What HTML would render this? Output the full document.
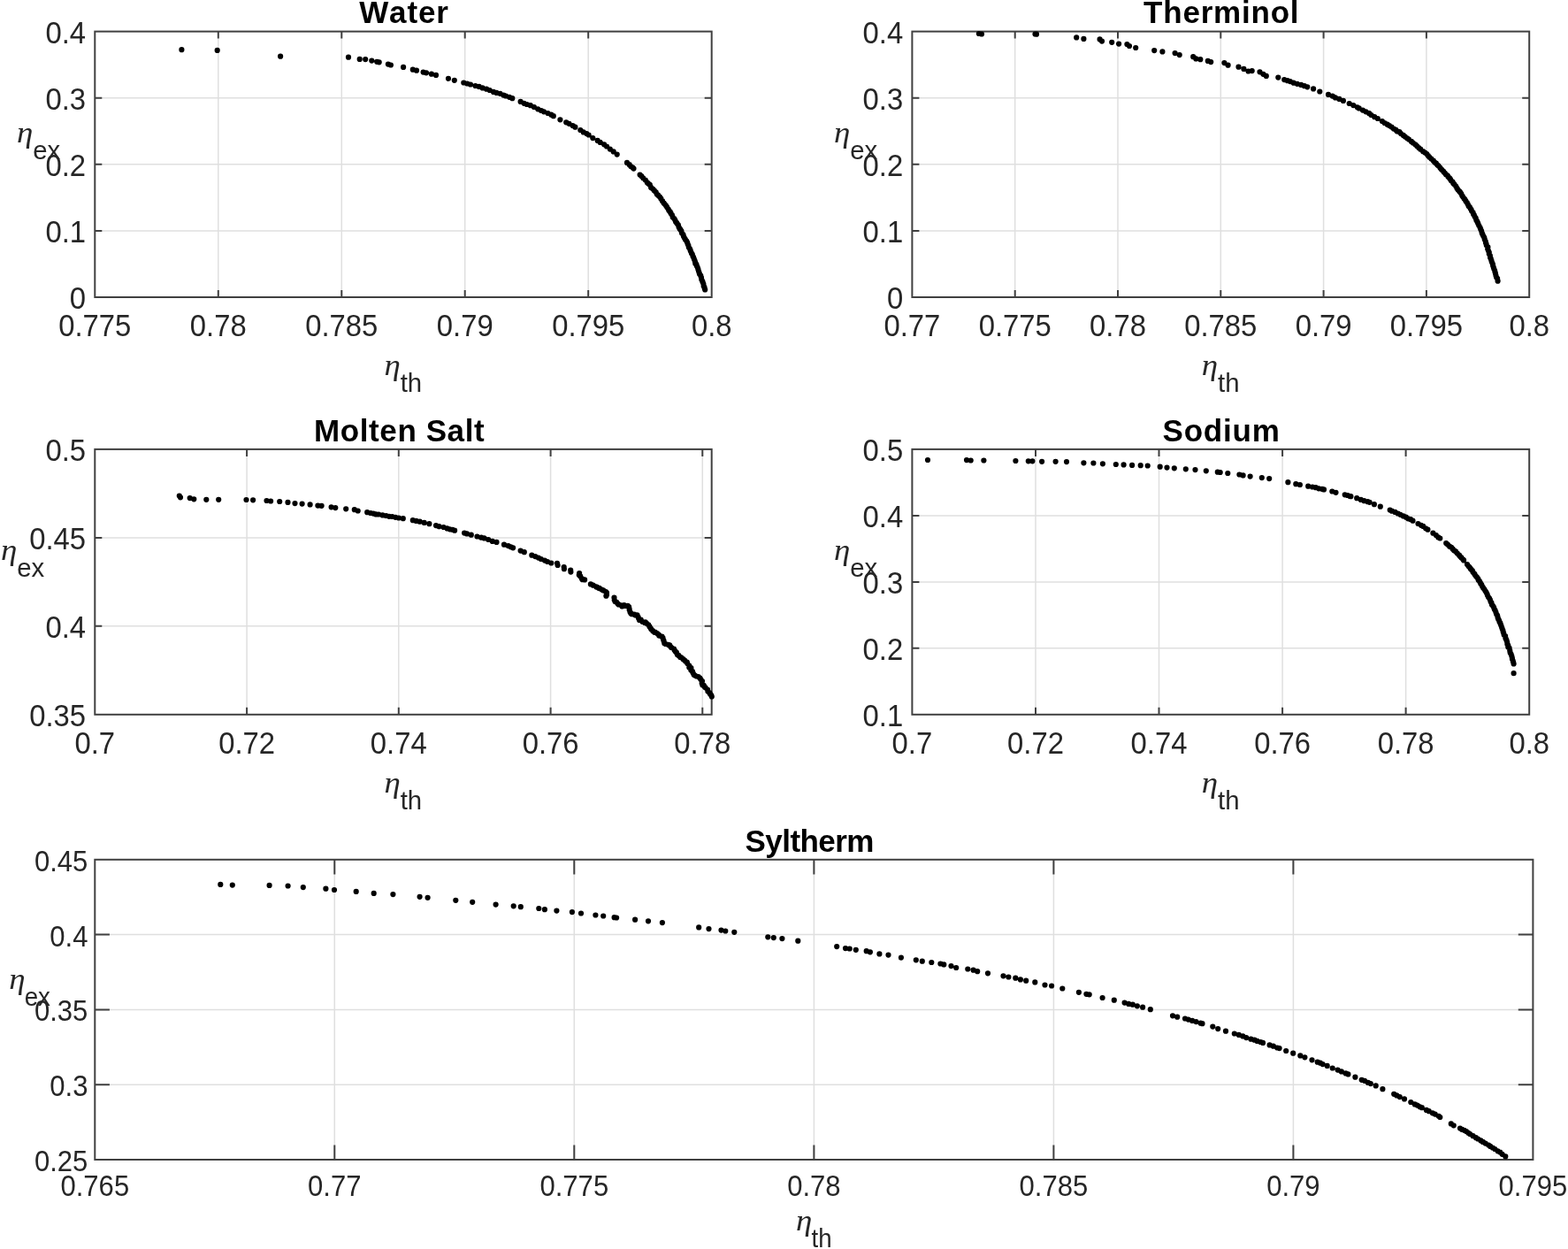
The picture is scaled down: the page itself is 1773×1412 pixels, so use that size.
<!DOCTYPE html>
<html lang="en">
<head>
<meta charset="utf-8">
<title>Exergy efficiency vs thermal efficiency</title>
<style>
html,body{margin:0;padding:0;background:#fff;}
body{width:1773px;height:1412px;overflow:hidden;}
svg{display:block;}
</style>
</head>
<body>
<svg width="1773" height="1412" viewBox="0 0 1773 1412">
<rect width="1773" height="1412" fill="#fff"/>
<g id="water">
<path d="M246.8,35.6V336.0M386.3,35.6V336.0M525.7,35.6V336.0M665.2,35.6V336.0M107.3,260.9H804.7M107.3,185.8H804.7M107.3,110.7H804.7" fill="none" stroke="#262626" stroke-opacity="0.15" stroke-width="1.5"/>
<path d="M246.8,336.0v-8.0M246.8,35.6v8.0M386.3,336.0v-8.0M386.3,35.6v8.0M525.7,336.0v-8.0M525.7,35.6v8.0M665.2,336.0v-8.0M665.2,35.6v8.0M107.3,260.9h8.0M804.7,260.9h-8.0M107.3,185.8h8.0M804.7,185.8h-8.0M107.3,110.7h8.0M804.7,110.7h-8.0" fill="none" stroke="#404040" stroke-width="2.0"/>
<rect x="107.3" y="35.6" width="697.4" height="300.4" fill="none" stroke="#404040" stroke-width="2.0"/>
<path d="M205.4,56.2h0M245.7,56.9h0M317.1,63.7h0M394.0,64.7h0M406.7,66.9h0M413.2,67.1h0M420.3,68.6h0M426.2,69.8h0M428.7,70.3h0M438.9,72.6h0M441.9,73.5h0M456.1,75.9h0M466.8,78.7h0M471.0,79.7h0M478.6,81.6h0M482.0,82.3h0M487.9,83.7h0M493.0,84.9h0M507.0,88.8h0M513.8,90.8h0M633.4,135.3h0M670.3,156.1h0M524.3,93.5h0M528.3,94.5h0M532.0,95.5h0M537.5,97.0h0M541.7,97.9h0M545.6,99.4h0M550.1,100.7h0M553.7,102.0h0M558.0,103.9h0M561.4,104.9h0M565.5,105.8h0M569.3,107.6h0M572.0,108.5h0M576.0,109.8h0M579.3,111.2h0M588.6,114.9h0M592.5,116.8h0M595.7,118.0h0M599.8,119.2h0M603.9,121.0h0M608.2,123.3h0M612.0,125.0h0M615.0,126.3h0M619.5,128.0h0M623.3,129.7h0M625.8,131.2h0M640.2,138.3h0M643.5,139.8h0M647.6,142.1h0M650.4,143.7h0M656.3,147.0h0M659.7,149.4h0M663.3,151.0h0M665.6,152.5h0M675.7,158.9h0M678.6,160.9h0M683.1,163.3h0M686.0,165.5h0M689.8,168.6h0M693.7,171.4h0M697.7,174.6h0M709.0,183.9h0M711.7,186.2h0M713.3,188.0h0M715.3,189.3h0M716.5,190.6h0M723.6,197.5h0M725.3,199.1h0M727.2,201.3h0M729.8,203.6h0M731.9,206.4h0M733.1,207.5h0M734.8,208.9h0M736.1,211.9h0M738.1,213.6h0M739.8,215.4h0M741.7,217.3h0M742.8,219.5h0M744.1,220.7h0M746.0,222.5h0M747.4,224.7h0M749.0,227.2h0M750.5,229.4h0M751.7,230.8h0M753.1,232.5h0M754.2,234.3h0M755.7,236.5h0M756.4,238.1h0M757.7,239.4h0M758.6,241.2h0M759.9,243.0h0M760.7,245.4h0M762.1,246.8h0M763.2,248.6h0M764.1,250.7h0M765.1,251.9h0M765.8,253.0h0M766.9,254.4h0M767.6,256.7h0M768.4,258.4h0M769.3,259.4h0M770.4,261.2h0M771.0,263.5h0M772.4,265.0h0M772.9,266.9h0M773.8,268.8h0M774.9,270.7h0M776.3,272.5h0M777.2,274.4h0M777.7,276.0h0M778.4,277.5h0M778.8,279.5h0M780.0,281.3h0M780.6,282.9h0M781.1,284.3h0M782.0,286.4h0M782.8,287.6h0M783.5,289.8h0M784.2,291.1h0M784.9,293.1h0M785.7,295.1h0M786.1,296.4h0M786.3,297.9h0M787.4,298.8h0M787.9,300.7h0M788.7,302.3h0M789.4,304.4h0M790.0,306.6h0M790.6,308.3h0M791.0,309.7h0M792.3,311.7h0M793.0,313.9h0M793.3,316.1h0M794.2,317.9h0M794.7,319.2h0M795.4,321.0h0M795.7,323.4h0M796.4,324.5h0M796.8,326.2h0M797.2,327.4h0" fill="none" stroke="#000" stroke-width="6.2" stroke-linecap="round"/>
<g font-family="'Liberation Sans', sans-serif" font-size="33.33" fill="#262626">
<text transform="translate(107.3,379.7) scale(0.985,1.03)" text-anchor="middle">0.775</text>
<text transform="translate(246.8,379.7) scale(0.985,1.03)" text-anchor="middle">0.78</text>
<text transform="translate(386.3,379.7) scale(0.985,1.03)" text-anchor="middle">0.785</text>
<text transform="translate(525.7,379.7) scale(0.985,1.03)" text-anchor="middle">0.79</text>
<text transform="translate(665.2,379.7) scale(0.985,1.03)" text-anchor="middle">0.795</text>
<text transform="translate(804.7,379.7) scale(0.985,1.03)" text-anchor="middle">0.8</text>
<text transform="translate(97.1,349.0) scale(0.985,1.03)" text-anchor="end">0</text>
<text transform="translate(97.1,273.9) scale(0.985,1.03)" text-anchor="end">0.1</text>
<text transform="translate(97.1,198.8) scale(0.985,1.03)" text-anchor="end">0.2</text>
<text transform="translate(97.1,123.7) scale(0.985,1.03)" text-anchor="end">0.3</text>
<text transform="translate(97.1,48.6) scale(0.985,1.03)" text-anchor="end">0.4</text>
</g>
<text x="406.17" y="26.3" letter-spacing="0.881" style="font-kerning:none" font-family="'Liberation Sans', sans-serif" font-weight="bold" font-size="35.0" fill="#000">Water</text>
<text transform="translate(434.5,424.3) scale(1.12,1)" fill="#262626" font-family="'Liberation Serif', serif" font-style="italic" font-size="33.0">η</text>
<text transform="translate(452.7,443.0) scale(1.0,1)" fill="#262626" font-family="'Liberation Sans', sans-serif" font-size="29.33">th</text>
<text transform="translate(19.0,161.3) scale(1.12,1)" fill="#262626" font-family="'Liberation Serif', serif" font-style="italic" font-size="33.0">η</text>
<text transform="translate(37.2,180.0) scale(1.0,1)" fill="#262626" font-family="'Liberation Sans', sans-serif" font-size="29.33">ex</text>
</g>
<g id="therminol">
<path d="M1147.7,35.6V336.0M1264.0,35.6V336.0M1380.3,35.6V336.0M1496.6,35.6V336.0M1612.9,35.6V336.0M1031.4,260.9H1729.2M1031.4,185.8H1729.2M1031.4,110.7H1729.2" fill="none" stroke="#262626" stroke-opacity="0.15" stroke-width="1.5"/>
<path d="M1147.7,336.0v-8.0M1147.7,35.6v8.0M1264.0,336.0v-8.0M1264.0,35.6v8.0M1380.3,336.0v-8.0M1380.3,35.6v8.0M1496.6,336.0v-8.0M1496.6,35.6v8.0M1612.9,336.0v-8.0M1612.9,35.6v8.0M1031.4,260.9h8.0M1729.2,260.9h-8.0M1031.4,185.8h8.0M1729.2,185.8h-8.0M1031.4,110.7h8.0M1729.2,110.7h-8.0" fill="none" stroke="#404040" stroke-width="2.0"/>
<rect x="1031.4" y="35.6" width="697.8" height="300.4" fill="none" stroke="#404040" stroke-width="2.0"/>
<path d="M1106.9,38.0h0M1110.0,38.5h0M1170.5,38.5h0M1172.0,38.7h0M1217.2,42.4h0M1225.4,43.9h0M1243.6,44.4h0M1246.0,46.6h0M1257.2,47.8h0M1265.1,49.6h0M1274.4,50.0h0M1277.0,52.0h0M1284.2,54.0h0M1305.2,57.1h0M1314.4,58.4h0M1328.6,60.1h0M1333.7,62.1h0M1349.2,64.2h0M1352.3,66.4h0M1357.3,67.2h0M1365.8,68.9h0M1369.2,70.1h0M1384.4,71.1h0M1388.6,73.7h0M1400.5,75.7h0M1406.4,77.9h0M1411.5,80.5h0M1415.7,80.1h0M1424.5,81.3h0M1428.4,83.8h0M1431.8,85.9h0M1445.3,87.6h0M1485.1,100.4h0M1492.3,103.5h0M1452.2,90.1h0M1455.8,91.2h0M1458.8,92.1h0M1462.7,93.7h0M1466.8,94.8h0M1471.2,95.9h0M1474.9,97.2h0M1478.3,98.3h0M1502.0,106.9h0M1506.7,108.6h0M1509.9,110.4h0M1514.4,111.9h0M1518.9,113.9h0M1525.7,117.0h0M1530.3,119.1h0M1534.8,121.3h0M1536.7,122.4h0M1540.9,124.6h0M1544.5,126.3h0M1548.2,128.2h0M1550.5,130.0h0M1554.2,132.2h0M1557.8,134.0h0M1562.9,137.0h0M1565.6,139.0h0M1568.7,140.7h0M1571.0,142.1h0M1573.5,143.5h0M1575.9,145.5h0M1578.1,146.7h0M1579.8,148.4h0M1582.4,149.2h0M1584.1,151.1h0M1586.8,152.9h0M1588.8,154.6h0M1591.2,156.3h0M1593.0,157.6h0M1595.9,159.9h0M1597.8,161.5h0M1600.3,163.3h0M1602.1,165.1h0M1604.2,167.0h0M1606.2,168.7h0M1609.1,171.2h0M1611.3,172.6h0M1613.3,174.1h0M1614.8,175.9h0M1616.4,177.8h0M1618.4,179.6h0M1620.8,181.7h0M1622.3,183.5h0M1623.9,184.7h0M1625.4,186.5h0M1626.6,187.6h0M1628.3,189.6h0M1629.4,191.0h0M1630.5,192.1h0M1632.2,193.9h0M1633.9,195.8h0M1635.0,197.3h0M1636.6,198.3h0M1637.4,199.7h0M1639.1,201.4h0M1640.0,202.7h0M1640.9,204.3h0M1642.5,205.6h0M1643.3,207.2h0M1644.6,208.6h0M1646.2,210.6h0M1647.5,212.9h0M1648.6,214.5h0M1650.3,216.4h0M1651.3,217.6h0M1652.3,219.1h0M1653.3,221.3h0M1654.2,222.5h0M1655.5,224.4h0M1656.5,225.6h0M1657.5,227.4h0M1658.8,229.2h0M1659.8,231.0h0M1660.6,232.9h0M1661.8,234.1h0M1662.7,235.8h0M1663.6,237.1h0M1664.1,238.5h0M1665.5,240.2h0M1666.0,241.9h0M1666.8,243.2h0M1667.5,244.8h0M1668.7,246.7h0M1669.4,249.1h0M1670.3,250.4h0M1671.2,252.4h0M1672.2,254.8h0M1673.5,257.0h0M1674.2,258.9h0M1675.1,261.1h0M1675.7,263.4h0M1676.3,264.7h0M1677.1,266.6h0M1678.3,268.7h0M1678.8,270.7h0M1679.8,273.0h0M1680.0,274.4h0M1680.6,275.9h0M1680.8,277.3h0M1682.4,279.4h0M1682.2,281.5h0M1683.0,283.6h0M1683.8,285.3h0M1683.8,287.0h0M1684.9,289.2h0M1685.1,291.3h0M1685.8,292.7h0M1686.5,294.9h0M1687.0,296.5h0M1687.9,298.7h0M1688.2,300.6h0M1688.8,302.3h0M1689.3,304.0h0M1690.1,305.8h0M1690.5,307.6h0M1691.0,309.2h0M1691.5,311.6h0M1692.1,313.6h0M1693.1,314.9h0M1693.6,317.7h0" fill="none" stroke="#000" stroke-width="6.2" stroke-linecap="round"/>
<g font-family="'Liberation Sans', sans-serif" font-size="33.33" fill="#262626">
<text transform="translate(1031.4,379.7) scale(0.985,1.03)" text-anchor="middle">0.77</text>
<text transform="translate(1147.7,379.7) scale(0.985,1.03)" text-anchor="middle">0.775</text>
<text transform="translate(1264.0,379.7) scale(0.985,1.03)" text-anchor="middle">0.78</text>
<text transform="translate(1380.3,379.7) scale(0.985,1.03)" text-anchor="middle">0.785</text>
<text transform="translate(1496.6,379.7) scale(0.985,1.03)" text-anchor="middle">0.79</text>
<text transform="translate(1612.9,379.7) scale(0.985,1.03)" text-anchor="middle">0.795</text>
<text transform="translate(1729.2,379.7) scale(0.985,1.03)" text-anchor="middle">0.8</text>
<text transform="translate(1021.2,349.0) scale(0.985,1.03)" text-anchor="end">0</text>
<text transform="translate(1021.2,273.9) scale(0.985,1.03)" text-anchor="end">0.1</text>
<text transform="translate(1021.2,198.8) scale(0.985,1.03)" text-anchor="end">0.2</text>
<text transform="translate(1021.2,123.7) scale(0.985,1.03)" text-anchor="end">0.3</text>
<text transform="translate(1021.2,48.6) scale(0.985,1.03)" text-anchor="end">0.4</text>
</g>
<text x="1293.11" y="26.3" letter-spacing="0.787" style="font-kerning:none" font-family="'Liberation Sans', sans-serif" font-weight="bold" font-size="35.0" fill="#000">Therminol</text>
<text transform="translate(1358.8,424.3) scale(1.12,1)" fill="#262626" font-family="'Liberation Serif', serif" font-style="italic" font-size="33.0">η</text>
<text transform="translate(1377.0,443.0) scale(1.0,1)" fill="#262626" font-family="'Liberation Sans', sans-serif" font-size="29.33">th</text>
<text transform="translate(943.0,161.3) scale(1.12,1)" fill="#262626" font-family="'Liberation Serif', serif" font-style="italic" font-size="33.0">η</text>
<text transform="translate(961.2,180.0) scale(1.0,1)" fill="#262626" font-family="'Liberation Sans', sans-serif" font-size="29.33">ex</text>
</g>
<g id="molten">
<path d="M279.1,507.9V807.8M450.8,507.9V807.8M622.6,507.9V807.8M794.3,507.9V807.8M107.3,707.8H804.7M107.3,607.9H804.7" fill="none" stroke="#262626" stroke-opacity="0.15" stroke-width="1.5"/>
<path d="M279.1,807.8v-8.0M279.1,507.9v8.0M450.8,807.8v-8.0M450.8,507.9v8.0M622.6,807.8v-8.0M622.6,507.9v8.0M794.3,807.8v-8.0M794.3,507.9v8.0M107.3,707.8h8.0M804.7,707.8h-8.0M107.3,607.9h8.0M804.7,607.9h-8.0" fill="none" stroke="#404040" stroke-width="2.0"/>
<rect x="107.3" y="507.9" width="697.4" height="299.9" fill="none" stroke="#404040" stroke-width="2.0"/>
<path d="M202.8,560.6h0M204.0,562.3h0M214.7,563.1h0M219.3,564.3h0M233.3,564.8h0M247.2,564.8h0M278.5,565.0h0M286.1,565.3h0M301.5,566.0h0M306.1,566.5h0M316.2,567.0h0M325.5,567.9h0M333.5,569.1h0M341.6,569.6h0M350.6,570.4h0M359.4,571.6h0M363.6,571.8h0M374.6,573.3h0M379.3,574.1h0M391.2,575.3h0M400.8,576.2h0M404.7,577.5h0M630.0,636.8h0M630.6,639.0h0M637.7,641.0h0M637.9,643.2h0M645.2,644.6h0M645.4,646.6h0M415.2,579.2h0M419.1,580.0h0M422.2,580.6h0M425.1,581.4h0M428.1,581.5h0M432.6,582.4h0M436.6,583.0h0M440.0,583.8h0M443.5,584.0h0M447.2,584.8h0M450.9,585.5h0M455.8,586.2h0M466.8,588.2h0M470.6,588.9h0M474.7,589.7h0M479.7,590.9h0M485.4,592.2h0M493.0,594.1h0M496.5,595.2h0M501.6,596.0h0M505.6,597.4h0M508.6,598.3h0M511.8,598.8h0M514.1,599.7h0M525.1,602.6h0M528.0,603.4h0M532.8,604.7h0M539.5,606.5h0M544.2,607.7h0M547.5,608.4h0M552.2,610.0h0M556.8,611.9h0M561.5,612.9h0M570.0,615.7h0M574.7,617.1h0M577.6,618.3h0M580.1,619.3h0M588.6,622.6h0M592.8,624.2h0M601.3,627.7h0M605.2,629.1h0M608.8,630.6h0M611.8,632.0h0M615.9,633.6h0M619.0,635.0h0M623.3,636.5h0M655.1,648.1h0M654.8,650.0h0M656.2,651.4h0M657.9,654.2h0M658.6,655.2h0M661.1,655.4h0M667.9,660.4h0M670.5,661.5h0M670.7,661.7h0M674.2,663.3h0M674.3,663.6h0M676.9,664.7h0M678.0,665.2h0M680.5,666.6h0M682.2,667.4h0M685.1,669.2h0M686.0,670.2h0M686.0,672.6h0M685.4,673.7h0M694.5,675.7h0M694.7,678.3h0M695.5,680.0h0M697.2,680.8h0M698.4,682.3h0M699.5,683.4h0M702.7,684.4h0M703.4,685.4h0M705.7,684.1h0M707.2,685.0h0M709.8,684.9h0M711.1,686.0h0M711.6,688.4h0M711.7,689.6h0M712.5,691.9h0M713.4,693.4h0M714.4,694.2h0M717.3,694.7h0M718.6,695.4h0M720.5,695.4h0M721.6,697.6h0M722.1,699.1h0M723.0,701.0h0M724.7,700.6h0M726.3,702.8h0M729.1,704.0h0M729.8,703.4h0M731.2,704.8h0M733.2,706.3h0M734.5,708.4h0M735.9,710.6h0M736.3,711.3h0M738.1,713.2h0M740.0,714.8h0M740.8,714.6h0M743.1,716.0h0M744.9,717.7h0M745.2,718.6h0M748.5,719.7h0M749.5,721.2h0M750.2,723.6h0M750.6,724.7h0M751.3,727.2h0M752.6,728.0h0M755.8,728.9h0M757.2,729.3h0M758.2,731.1h0M759.1,732.0h0M762.0,733.5h0M762.5,734.8h0M763.5,736.2h0M764.9,737.7h0M765.9,740.0h0M767.3,740.9h0M769.2,742.9h0M770.3,743.3h0M772.5,745.2h0M774.2,746.6h0M775.0,747.6h0M776.8,748.6h0M777.3,750.1h0M779.3,752.6h0M779.3,754.6h0M781.4,755.1h0M781.3,757.4h0M783.0,759.2h0M783.5,760.5h0M784.6,762.7h0M785.7,763.5h0M787.6,764.5h0M789.7,765.1h0M791.4,766.7h0M792.4,768.1h0M794.0,770.1h0M793.7,772.4h0M794.4,774.5h0M795.8,774.8h0M797.0,776.8h0M797.6,777.3h0M800.0,779.5h0M800.4,781.5h0M802.4,783.4h0M803.1,784.7h0M804.3,786.0h0M804.8,787.5h0" fill="none" stroke="#000" stroke-width="6.2" stroke-linecap="round"/>
<g font-family="'Liberation Sans', sans-serif" font-size="33.33" fill="#262626">
<text transform="translate(107.3,851.5) scale(0.985,1.03)" text-anchor="middle">0.7</text>
<text transform="translate(279.1,851.5) scale(0.985,1.03)" text-anchor="middle">0.72</text>
<text transform="translate(450.8,851.5) scale(0.985,1.03)" text-anchor="middle">0.74</text>
<text transform="translate(622.6,851.5) scale(0.985,1.03)" text-anchor="middle">0.76</text>
<text transform="translate(794.3,851.5) scale(0.985,1.03)" text-anchor="middle">0.78</text>
<text transform="translate(97.1,820.8) scale(0.985,1.03)" text-anchor="end">0.35</text>
<text transform="translate(97.1,720.8) scale(0.985,1.03)" text-anchor="end">0.4</text>
<text transform="translate(97.1,620.9) scale(0.985,1.03)" text-anchor="end">0.45</text>
<text transform="translate(97.1,520.9) scale(0.985,1.03)" text-anchor="end">0.5</text>
</g>
<text x="355.06" y="498.6" letter-spacing="0.590" style="font-kerning:none" font-family="'Liberation Sans', sans-serif" font-weight="bold" font-size="35.0" fill="#000">Molten Salt</text>
<text transform="translate(434.5,896.1) scale(1.12,1)" fill="#262626" font-family="'Liberation Serif', serif" font-style="italic" font-size="33.0">η</text>
<text transform="translate(452.7,914.8) scale(1.0,1)" fill="#262626" font-family="'Liberation Sans', sans-serif" font-size="29.33">th</text>
<text transform="translate(1.0,633.3) scale(1.12,1)" fill="#262626" font-family="'Liberation Serif', serif" font-style="italic" font-size="33.0">η</text>
<text transform="translate(19.2,652.0) scale(1.0,1)" fill="#262626" font-family="'Liberation Sans', sans-serif" font-size="29.33">ex</text>
</g>
<g id="sodium">
<path d="M1171.0,507.9V807.8M1310.5,507.9V807.8M1450.1,507.9V807.8M1589.6,507.9V807.8M1031.4,732.8H1729.2M1031.4,657.9H1729.2M1031.4,582.9H1729.2" fill="none" stroke="#262626" stroke-opacity="0.15" stroke-width="1.5"/>
<path d="M1171.0,807.8v-8.0M1171.0,507.9v8.0M1310.5,807.8v-8.0M1310.5,507.9v8.0M1450.1,807.8v-8.0M1450.1,507.9v8.0M1589.6,807.8v-8.0M1589.6,507.9v8.0M1031.4,732.8h8.0M1729.2,732.8h-8.0M1031.4,657.9h8.0M1729.2,657.9h-8.0M1031.4,582.9h8.0M1729.2,582.9h-8.0" fill="none" stroke="#404040" stroke-width="2.0"/>
<rect x="1031.4" y="507.9" width="697.8" height="299.9" fill="none" stroke="#404040" stroke-width="2.0"/>
<path d="M1049.0,520.0h0M1093.0,520.1h0M1097.7,520.5h0M1112.4,520.5h0M1148.4,521.0h0M1162.8,521.3h0M1167.4,521.3h0M1178.1,521.8h0M1193.6,521.8h0M1206.0,522.1h0M1225.4,523.3h0M1236.4,523.5h0M1246.9,524.3h0M1261.8,525.0h0M1270.6,525.4h0M1280.1,525.9h0M1289.7,526.2h0M1297.7,526.5h0M1311.7,527.7h0M1319.5,528.6h0M1327.8,529.3h0M1340.8,530.3h0M1351.5,531.1h0M1363.8,532.3h0M1376.8,533.7h0M1379.7,534.0h0M1388.3,535.0h0M1401.4,536.5h0M1405.6,537.4h0M1413.6,538.6h0M1426.8,540.1h0M1435.2,541.1h0M1456.4,545.2h0M1465.3,547.2h0M1469.9,548.0h0M1506.3,555.5h0M1510.5,556.8h0M1553.9,570.2h0M1560.8,572.7h0M1711.6,761.2h0M1479.2,549.7h0M1484.0,550.5h0M1487.8,551.2h0M1491.2,552.3h0M1494.9,552.8h0M1497.0,553.4h0M1520.7,559.3h0M1523.8,560.0h0M1526.4,561.0h0M1527.4,561.2h0M1534.2,563.2h0M1538.8,564.9h0M1542.5,566.2h0M1546.6,567.2h0M1548.6,567.8h0M1571.7,576.5h0M1573.8,577.7h0M1577.4,578.9h0M1580.6,580.5h0M1583.4,581.8h0M1586.8,583.4h0M1589.8,584.7h0M1592.2,586.3h0M1595.1,587.2h0M1597.5,588.7h0M1603.5,592.0h0M1606.9,593.8h0M1609.2,594.9h0M1612.1,597.3h0M1614.4,598.7h0M1620.4,602.7h0M1623.8,605.1h0M1626.3,607.4h0M1628.3,608.5h0M1635.2,614.0h0M1636.9,615.6h0M1639.1,617.7h0M1641.1,618.8h0M1642.7,620.7h0M1644.1,622.2h0M1646.0,623.4h0M1647.8,625.5h0M1650.0,627.7h0M1651.0,629.1h0M1652.4,630.4h0M1654.4,632.5h0M1655.1,633.4h0M1659.0,638.0h0M1660.5,640.0h0M1661.5,641.0h0M1662.8,642.9h0M1663.8,644.0h0M1664.8,645.1h0M1665.5,646.7h0M1666.9,648.3h0M1667.6,649.4h0M1668.8,651.3h0M1670.0,652.5h0M1671.3,654.4h0M1671.7,655.8h0M1672.8,656.8h0M1673.7,658.5h0M1674.4,659.9h0M1675.3,661.0h0M1676.0,662.8h0M1677.0,664.4h0M1678.3,666.0h0M1679.5,668.0h0M1680.5,669.6h0M1681.5,671.6h0M1682.0,673.0h0M1683.0,675.0h0M1684.0,676.3h0M1684.9,678.1h0M1685.6,680.3h0M1686.4,681.3h0M1686.9,683.4h0M1688.0,684.8h0M1689.1,686.7h0M1689.8,688.8h0M1690.6,690.1h0M1691.4,692.1h0M1692.1,694.3h0M1693.0,695.6h0M1693.4,697.0h0M1693.7,698.5h0M1694.1,699.7h0M1695.0,701.3h0M1695.5,703.0h0M1696.3,704.2h0M1696.8,705.7h0M1697.5,707.6h0M1698.2,709.6h0M1698.7,711.1h0M1699.4,712.8h0M1699.7,714.3h0M1700.2,715.7h0M1700.7,717.8h0M1702.1,719.0h0M1702.4,721.4h0M1703.0,722.7h0M1703.7,724.4h0M1704.2,726.0h0M1704.4,728.2h0M1705.3,729.5h0M1705.3,731.6h0M1706.6,732.7h0M1707.2,735.0h0M1707.4,736.5h0M1707.7,738.0h0M1708.6,739.5h0M1709.3,741.6h0M1709.8,743.5h0M1710.0,745.2h0M1710.7,747.1h0M1711.1,748.5h0M1711.6,750.4h0" fill="none" stroke="#000" stroke-width="6.2" stroke-linecap="round"/>
<g font-family="'Liberation Sans', sans-serif" font-size="33.33" fill="#262626">
<text transform="translate(1031.4,851.5) scale(0.985,1.03)" text-anchor="middle">0.7</text>
<text transform="translate(1171.0,851.5) scale(0.985,1.03)" text-anchor="middle">0.72</text>
<text transform="translate(1310.5,851.5) scale(0.985,1.03)" text-anchor="middle">0.74</text>
<text transform="translate(1450.1,851.5) scale(0.985,1.03)" text-anchor="middle">0.76</text>
<text transform="translate(1589.6,851.5) scale(0.985,1.03)" text-anchor="middle">0.78</text>
<text transform="translate(1729.2,851.5) scale(0.985,1.03)" text-anchor="middle">0.8</text>
<text transform="translate(1021.2,820.8) scale(0.985,1.03)" text-anchor="end">0.1</text>
<text transform="translate(1021.2,745.8) scale(0.985,1.03)" text-anchor="end">0.2</text>
<text transform="translate(1021.2,670.9) scale(0.985,1.03)" text-anchor="end">0.3</text>
<text transform="translate(1021.2,595.9) scale(0.985,1.03)" text-anchor="end">0.4</text>
<text transform="translate(1021.2,520.9) scale(0.985,1.03)" text-anchor="end">0.5</text>
</g>
<text x="1314.49" y="498.6" letter-spacing="0.810" style="font-kerning:none" font-family="'Liberation Sans', sans-serif" font-weight="bold" font-size="35.0" fill="#000">Sodium</text>
<text transform="translate(1358.8,896.1) scale(1.12,1)" fill="#262626" font-family="'Liberation Serif', serif" font-style="italic" font-size="33.0">η</text>
<text transform="translate(1377.0,914.8) scale(1.0,1)" fill="#262626" font-family="'Liberation Sans', sans-serif" font-size="29.33">th</text>
<text transform="translate(943.0,633.3) scale(1.12,1)" fill="#262626" font-family="'Liberation Serif', serif" font-style="italic" font-size="33.0">η</text>
<text transform="translate(961.2,652.0) scale(1.0,1)" fill="#262626" font-family="'Liberation Sans', sans-serif" font-size="29.33">ex</text>
</g>
<g id="syltherm">
<path d="M378.3,971.8V1311.0M649.3,971.8V1311.0M920.4,971.8V1311.0M1191.4,971.8V1311.0M1462.4,971.8V1311.0M107.3,1226.2H1733.4M107.3,1141.4H1733.4M107.3,1056.6H1733.4" fill="none" stroke="#262626" stroke-opacity="0.15" stroke-width="1.5"/>
<path d="M378.3,1311.0v-16.6M378.3,971.8v16.6M649.3,1311.0v-16.6M649.3,971.8v16.6M920.4,1311.0v-16.6M920.4,971.8v16.6M1191.4,1311.0v-16.6M1191.4,971.8v16.6M1462.4,1311.0v-16.6M1462.4,971.8v16.6M107.3,1226.2h16.6M1733.4,1226.2h-16.6M107.3,1141.4h16.6M1733.4,1141.4h-16.6M107.3,1056.6h16.6M1733.4,1056.6h-16.6" fill="none" stroke="#404040" stroke-width="2.0"/>
<rect x="107.3" y="971.8" width="1626.1" height="339.2" fill="none" stroke="#404040" stroke-width="2.0"/>
<path d="M249.3,999.9h0M262.8,1000.6h0M304.6,1000.9h0M325.6,1001.5h0M342.8,1003.1h0M368.4,1004.7h0M378.0,1006.0h0M402.7,1007.9h0M422.7,1009.9h0M444.4,1011.1h0M474.6,1013.8h0M483.6,1014.8h0M515.3,1017.8h0M534.2,1019.8h0M560.6,1022.6h0M580.7,1024.3h0M588.8,1025.2h0M609.3,1027.0h0M615.9,1028.2h0M629.4,1029.6h0M646.9,1031.1h0M657.0,1032.5h0M673.4,1034.5h0M682.2,1035.5h0M694.6,1037.2h0M697.1,1037.5h0M718.1,1039.7h0M733.0,1041.3h0M748.9,1043.1h0M790.2,1048.4h0M801.5,1050.1h0M815.5,1051.6h0M820.3,1052.5h0M830.3,1053.8h0M868.3,1059.3h0M874.8,1060.1h0M884.4,1061.1h0M902.3,1063.7h0M946.2,1070.1h0M956.0,1072.1h0M960.7,1072.5h0M967.8,1073.8h0M979.7,1075.2h0M983.9,1076.3h0M994.4,1078.4h0M1004.5,1079.6h0M1018.9,1082.6h0M1035.8,1085.3h0M1042.8,1086.7h0M1053.3,1088.0h0M1063.4,1089.5h0M1067.3,1090.4h0M1075.5,1092.1h0M1081.2,1094.0h0M1094.3,1095.5h0M1100.6,1096.7h0M1105.2,1098.2h0M1117.0,1100.3h0M1134.5,1103.3h0M1140.4,1104.5h0M1148.3,1105.7h0M1153.9,1107.4h0M1160.2,1108.7h0M1170.3,1110.4h0M1181.5,1113.5h0M1189.1,1114.5h0M1201.3,1117.5h0M1219.9,1121.8h0M1228.4,1123.8h0M1231.7,1124.3h0M1246.6,1128.0h0M1259.8,1130.7h0M1292.1,1138.7h0M1300.8,1141.2h0M1326.0,1148.3h0M1331.2,1149.7h0M1371.3,1160.6h0M1377.2,1163.1h0M1386.0,1165.7h0M1454.2,1188.0h0M1462.2,1190.7h0M1483.5,1198.3h0M1506.7,1207.5h0M1532.4,1217.7h0M1555.7,1227.4h0M1563.4,1231.2h0M1640.8,1270.4h0M1643.7,1272.3h0M1271.6,1133.6h0M1276.2,1134.9h0M1280.8,1135.7h0M1285.9,1137.3h0M1340.0,1151.5h0M1343.7,1152.6h0M1348.1,1153.9h0M1352.5,1155.1h0M1357.6,1156.7h0M1359.5,1157.2h0M1395.8,1168.5h0M1400.8,1169.9h0M1405.3,1171.4h0M1409.2,1173.1h0M1414.4,1174.7h0M1418.4,1175.7h0M1421.5,1176.9h0M1425.3,1178.0h0M1428.0,1178.9h0M1435.6,1181.4h0M1439.8,1182.7h0M1444.2,1184.5h0M1446.6,1185.1h0M1470.3,1193.4h0M1475.4,1195.3h0M1489.7,1200.7h0M1492.9,1201.7h0M1495.6,1203.1h0M1500.7,1204.9h0M1512.6,1209.6h0M1516.8,1211.4h0M1521.7,1213.4h0M1524.4,1214.4h0M1539.7,1220.8h0M1543.0,1221.8h0M1546.9,1223.9h0M1549.8,1225.1h0M1576.2,1236.8h0M1579.3,1238.4h0M1582.7,1240.1h0M1588.0,1242.4h0M1595.3,1246.0h0M1599.8,1248.4h0M1602.6,1249.6h0M1605.6,1251.3h0M1607.8,1252.2h0M1612.9,1254.9h0M1615.7,1256.2h0M1619.8,1258.3h0M1622.7,1259.6h0M1626.8,1261.8h0M1628.3,1263.0h0M1651.0,1275.6h0M1653.3,1276.9h0M1655.7,1277.8h0M1658.0,1279.0h0M1660.3,1280.8h0M1662.2,1282.1h0M1665.6,1284.2h0M1668.9,1286.2h0M1671.1,1287.5h0M1674.4,1289.4h0M1676.7,1290.9h0M1679.6,1292.6h0M1683.2,1294.6h0M1685.1,1295.9h0M1687.8,1297.5h0M1690.3,1299.0h0M1693.6,1301.3h0M1696.2,1302.6h0M1698.6,1304.8h0M1702.3,1307.4h0" fill="none" stroke="#000" stroke-width="6.2" stroke-linecap="round"/>
<g font-family="'Liberation Sans', sans-serif" font-size="33.33" fill="#262626">
<text transform="translate(107.3,1351.6) scale(0.932,1.02)" text-anchor="middle">0.765</text>
<text transform="translate(378.3,1351.6) scale(0.932,1.02)" text-anchor="middle">0.77</text>
<text transform="translate(649.3,1351.6) scale(0.932,1.02)" text-anchor="middle">0.775</text>
<text transform="translate(920.4,1351.6) scale(0.932,1.02)" text-anchor="middle">0.78</text>
<text transform="translate(1191.4,1351.6) scale(0.932,1.02)" text-anchor="middle">0.785</text>
<text transform="translate(1462.4,1351.6) scale(0.932,1.02)" text-anchor="middle">0.79</text>
<text transform="translate(1733.4,1351.6) scale(0.932,1.02)" text-anchor="middle">0.795</text>
<text transform="translate(99.4,1324.0) scale(0.932,1.02)" text-anchor="end">0.25</text>
<text transform="translate(99.4,1239.2) scale(0.932,1.02)" text-anchor="end">0.3</text>
<text transform="translate(99.4,1154.4) scale(0.932,1.02)" text-anchor="end">0.35</text>
<text transform="translate(99.4,1069.6) scale(0.932,1.02)" text-anchor="end">0.4</text>
<text transform="translate(99.4,984.8) scale(0.932,1.02)" text-anchor="end">0.45</text>
</g>
<text x="842.59" y="962.5" letter-spacing="-0.557" style="font-kerning:none" font-family="'Liberation Sans', sans-serif" font-weight="bold" font-size="35.0" fill="#000">Syltherm</text>
<text transform="translate(900.1,1391.2) scale(1.12,1)" fill="#262626" font-family="'Liberation Serif', serif" font-style="italic" font-size="33.0">η</text>
<text transform="translate(917.5,1409.9) scale(0.945,1)" fill="#262626" font-family="'Liberation Sans', sans-serif" font-size="29.33">th</text>
<text transform="translate(10.3,1117.9) scale(1.12,1)" fill="#262626" font-family="'Liberation Serif', serif" font-style="italic" font-size="33.0">η</text>
<text transform="translate(27.7,1136.6) scale(0.945,1)" fill="#262626" font-family="'Liberation Sans', sans-serif" font-size="29.33">ex</text>
</g>
</svg>
</body>
</html>
